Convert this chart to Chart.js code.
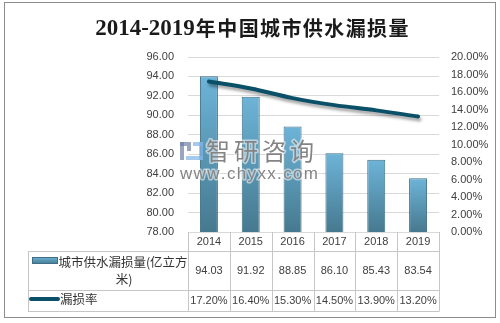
<!DOCTYPE html>
<html><head><meta charset="utf-8">
<script src="https://cdn.jsdelivr.net/npm/chart.js@4/dist/chart.umd.min.js"></script>
<style>html,body{margin:0;padding:0;background:#fff}canvas{display:block}</style>
</head><body>
<canvas id="c" width="500" height="323"></canvas>
<script>
// ---- data ----
const titleDigits = '2014-2019';
const titleCJK = '年中国城市供水漏损量';
const years = ['2014', '2015', '2016', '2017', '2018', '2019'];
const leakage = [94.03, 91.92, 88.85, 86.10, 85.43, 83.54];
const leakRate = [17.20, 16.40, 15.30, 14.50, 13.90, 13.20];
const barName = ['城市供水漏损量(亿立方', '米)'];
const lineName = '漏损率';
const leftAxis = [78, 96, 2];
const rightAxis = [0, 20, 2];
const wmCN = '智研咨询';
const wmURL = 'www.chyxx.com';

const NUM = '"Liberation Sans", Arial, sans-serif';
const CJK = '"Noto Sans CJK SC", sans-serif';
const TXT = '#404040';
const GRID = '#d9d9d9';
const TLINE = '#c6c6c6';
const LINEC = '#0b5069';

function barGrad(ctx) {
  const c = ctx.chart;
  if (ctx.type !== 'data' || !c.scales.y) return '#5a9ec0';
  const ys = c.scales.y;
  const top = ys.getPixelForValue(ctx.raw);
  const bot = ys.getPixelForValue(leftAxis[0]);
  if (!isFinite(top) || !isFinite(bot) || top === bot) return '#5a9ec0';
  const g = c.ctx.createLinearGradient(0, top, 0, bot);
  g.addColorStop(0, '#6db4d8');
  g.addColorStop(1, '#46798f');
  return g;
}

function spacedText(ctx, str, x, y, adv, halo) {
  for (let i = 0; i < str.length; i++) {
    if (halo) ctx.strokeText(str[i], x + i * adv, y);
    ctx.fillText(str[i], x + i * adv, y);
  }
}

const decor = {
  id: 'decor',
  beforeDraw(chart) {
    const ctx = chart.ctx;
    ctx.save();
    ctx.fillStyle = '#fff';
    ctx.fillRect(0, 0, chart.width, chart.height);
    ctx.strokeStyle = '#8c8c8c';
    ctx.lineWidth = 1;
    ctx.strokeRect(4.5, 2.5, 491, 315);
    ctx.restore();
  },
  beforeDatasetDraw(chart, args) {
    if (args.index === 1) {
      const ctx = chart.ctx;
      ctx.save();
      ctx.shadowColor = 'rgba(0,0,0,0.35)';
      ctx.shadowBlur = 3;
      ctx.shadowOffsetX = 1.5;
      ctx.shadowOffsetY = 3;
    }
  },
  afterDatasetDraw(chart, args) {
    if (args.index === 1) chart.ctx.restore();
  },
  afterDatasetsDraw(chart) {
    const ctx = chart.ctx;
    ctx.save();
    // watermark logo
    ctx.globalAlpha = 0.7;
    ctx.fillStyle = '#6f7fa3';
    ctx.fillRect(180, 142, 11, 4);
    ctx.fillRect(180, 142, 4, 18);
    ctx.fillRect(187, 146, 4, 5);
    ctx.fillStyle = '#7fb3e6';
    ctx.fillRect(193, 142, 10, 4);
    ctx.fillRect(199, 142, 4, 18);
    ctx.fillRect(186, 156, 17, 4);
    ctx.globalAlpha = 1;
    ctx.fillStyle = '#848484';
    ctx.strokeStyle = 'rgba(255,255,255,0.55)';
    ctx.lineWidth = 3;
    ctx.lineJoin = 'round';
    ctx.font = '24px ' + CJK;
    ctx.textBaseline = 'middle';
    ctx.textAlign = 'left';
    spacedText(ctx, wmCN, 206, 151, 28, true);
    ctx.font = '17px ' + NUM;
    let nat = 0;
    for (const ch of wmURL) nat += ctx.measureText(ch).width;
    const sp = (138 - nat) / (wmURL.length - 1);
    let x = 180;
    for (const ch of wmURL) {
      ctx.strokeText(ch, x, 174);
      ctx.fillText(ch, x, 174);
      x += ctx.measureText(ch).width + sp;
    }
    ctx.restore();
  },
  afterDraw(chart) {
    const ctx = chart.ctx;
    const xs = chart.scales.x;
    const ca = chart.chartArea;
    ctx.save();
    // title
    ctx.fillStyle = '#1a1a1a';
    ctx.font = 'bold 23px "Liberation Serif", serif';
    const w1 = ctx.measureText(titleDigits).width;
    const adv = 21.4;
    const total = w1 + titleCJK.length * adv;
    const sx = 252 - total / 2;
    ctx.textAlign = 'left';
    ctx.textBaseline = 'alphabetic';
    ctx.fillText(titleDigits, sx, 35);
    ctx.font = 'bold 20px ' + CJK;
    ctx.textBaseline = 'middle';
    spacedText(ctx, titleCJK, sx + w1 + 1, 28, adv, false);

    // table
    const cw = (ca.right - ca.left) / years.length;
    const rTop = ca.bottom, r1 = 251, r2 = 290, r3 = 311, tl = 28;
    ctx.strokeStyle = TLINE;
    ctx.lineWidth = 1;
    ctx.beginPath();
    [r1, r2, r3].forEach(y => { ctx.moveTo(tl, y + 0.5); ctx.lineTo(ca.right, y + 0.5); });
    for (let i = 0; i <= years.length; i++) {
      const x = Math.round(ca.left + i * cw) + 0.5;
      ctx.moveTo(x, rTop); ctx.lineTo(x, r3 + 0.5);
    }
    ctx.moveTo(tl + 0.5, r1); ctx.lineTo(tl + 0.5, r3 + 0.5);
    ctx.stroke();

    ctx.fillStyle = TXT;
    ctx.font = '11px ' + NUM;
    ctx.textAlign = 'center';
    ctx.textBaseline = 'middle';
    years.forEach((y, i) => {
      const cx = xs.getPixelForValue(i);
      ctx.fillText(y, cx, 241.5);
      ctx.fillText(leakage[i].toFixed(2), cx, 270.5);
      ctx.fillText(leakRate[i].toFixed(2) + '%', cx, 300.5);
    });

    // legend in table
    const g = ctx.createLinearGradient(0, 257, 0, 264);
    g.addColorStop(0, '#6db4d8');
    g.addColorStop(1, '#46798f');
    ctx.fillStyle = g;
    ctx.fillRect(32, 257, 25, 6);
    ctx.strokeStyle = '#3f6f86';
    ctx.strokeRect(32.5, 257.5, 25, 6);
    ctx.fillStyle = '#333333';
    ctx.font = '12.5px ' + CJK;
    ctx.textAlign = 'center';
    ctx.fillText(barName[0], 123, 262);
    ctx.fillText(barName[1], 124, 279);

    ctx.strokeStyle = LINEC;
    ctx.lineWidth = 4;
    ctx.lineCap = 'round';
    ctx.beginPath();
    ctx.moveTo(31, 299); ctx.lineTo(58, 299);
    ctx.stroke();
    ctx.textAlign = 'left';
    ctx.fillText(lineName, 60, 299);
    ctx.restore();
  }
};

new Chart(document.getElementById('c'), {
  data: {
    labels: years,
    datasets: [
      {
        type: 'bar', label: barName.join(''), data: leakage, yAxisID: 'y', order: 1,
        backgroundColor: barGrad, borderColor: '#3f6f86', borderWidth: 1,
        barPercentage: 0.43, categoryPercentage: 1
      },
      {
        type: 'line', label: lineName, data: leakRate, yAxisID: 'y1', order: 0,
        borderColor: LINEC, borderWidth: 4, tension: 0.35, pointRadius: 0,
        borderCapStyle: 'round', fill: false
      }
    ]
  },
  options: {
    responsive: false, animation: false, devicePixelRatio: 1,
    layout: { padding: { top: 57, left: 0, right: 0, bottom: 0 } },
    plugins: { legend: { display: false }, title: { display: false }, tooltip: { enabled: false } },
    scales: {
      x: {
        grid: { display: false }, border: { display: false },
        ticks: { display: false },
        afterFit(s) { s.height = 91; }
      },
      y: {
        position: 'left', min: leftAxis[0], max: leftAxis[1],
        ticks: { stepSize: leftAxis[2], autoSkip: false, padding: 14, color: TXT,
          font: { family: NUM, size: 11 }, callback: v => Number(v).toFixed(2) },
        grid: { color: GRID, drawTicks: false }, border: { display: false },
        afterFit(s) { s.width = 188; }
      },
      y1: {
        position: 'right', min: rightAxis[0], max: rightAxis[1],
        ticks: { stepSize: rightAxis[2], autoSkip: false, padding: 12, color: TXT,
          font: { family: NUM, size: 11 }, callback: v => Number(v).toFixed(2) + '%' },
        grid: { drawOnChartArea: false, drawTicks: false }, border: { display: false },
        afterFit(s) { s.width = 61; }
      }
    }
  },
  plugins: [decor]
});
</script>
</body></html>
